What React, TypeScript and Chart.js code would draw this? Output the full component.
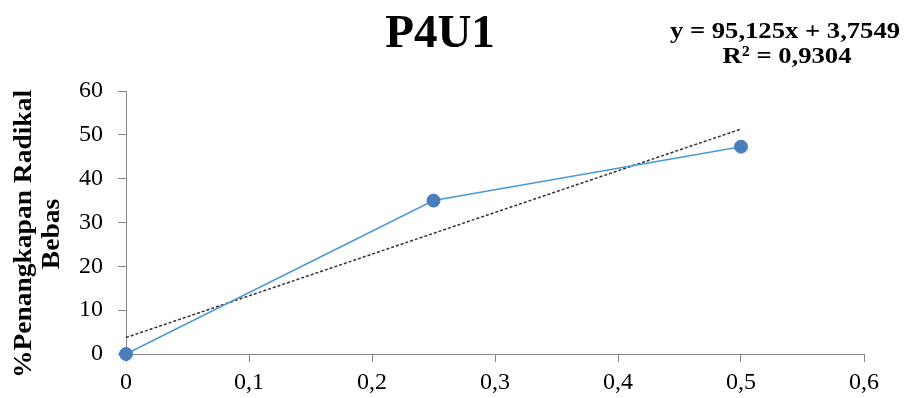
import React, { useEffect, useRef } from "react";
import { Chart, registerables } from "chart.js";

Chart.register(...registerables);

const xValues = [0, 0.25, 0.5];
const yValues = [0, 35, 47.3];
const slope = 95.125;
const intercept = 3.7549;
const trendX = [0, 0.5];
const titleText = "P4U1";
const eqLine1 = "y = 95,125x + 3,7549";
const eqLine2 = "R² = 0,9304";
const yTitleLines = ["%Penangkapan Radikal", "Bebas"];

const SERIF = "'Liberation Serif', 'Times New Roman', serif";

const textPlugin = {
  id: "texts",
  afterDraw(chart: any) {
    const ctx = chart.ctx;
    ctx.save();
    ctx.fillStyle = "#000";
    ctx.textAlign = "center";
    ctx.textBaseline = "alphabetic";
    ctx.font = `bold 47px ${SERIF}`;
    ctx.fillText(titleText, 440, 47);

    ctx.font = `bold 24px ${SERIF}`;
    ctx.save();
    ctx.translate(785, 38);
    ctx.scale(1.11, 1);
    ctx.fillText(eqLine1, 0, 0);
    ctx.restore();
    ctx.save();
    ctx.translate(787, 63);
    ctx.scale(1.11, 1);
    ctx.fillText(eqLine2, 0, 0);
    ctx.restore();

    // y axis title
    ctx.save();
    ctx.translate(0, 234);
    ctx.rotate(-Math.PI / 2);
    ctx.font = `bold 25px ${SERIF}`;
    ctx.textBaseline = "middle";
    ctx.save();
    ctx.scale(1.1, 1);
    ctx.fillText(yTitleLines[0], 0, 25);
    ctx.fillText(yTitleLines[1], 0, 53);
    ctx.restore();
    ctx.restore();
    ctx.restore();
  },
};

export default function App() {
  const ref = useRef<HTMLCanvasElement>(null);
  useEffect(() => {
    const chart = new Chart(ref.current!, {
      type: "scatter",
      data: {
        datasets: [
          {
            label: "data",
            data: xValues.map((x, i) => ({ x, y: yValues[i] })),
            showLine: true,
            clip: false,
            borderColor: "#4a9ad8",
            borderWidth: 1.5,
            pointRadius: 6.5,
            pointBackgroundColor: "#4a7ebb",
            pointBorderColor: "#4a7ebb",
            pointBorderWidth: 1,
          },
          {
            label: "trend",
            data: trendX.map((x) => ({ x, y: slope * x + intercept })),
            showLine: true,
            borderColor: "#333",
            borderWidth: 1.5,
            borderDash: [3, 2],
            pointRadius: 0,
          },
        ],
      },
      options: {
        animation: false,
        responsive: false,
        maintainAspectRatio: false,
        layout: { padding: { left: 0, top: 91, right: 42, bottom: 0 } },
        plugins: { legend: { display: false }, tooltip: { enabled: false }, title: { display: false } },
        scales: {
          x: {
            type: "linear",
            min: 0,
            max: 0.6,
            ticks: {
              stepSize: 0.1,
              color: "#000",
              font: { family: SERIF, size: 24 },
              padding: 6,
              callback: (v: any) => String(Math.round(Number(v) * 10) / 10).replace(".", ","),
            },
            grid: { drawOnChartArea: false, drawTicks: true, tickLength: 8, color: "#868686" },
            border: { color: "#868686", width: 1 },
            afterFit: (s: any) => {
              s.height = 44;
            },
          },
          y: {
            min: 0,
            max: 60,
            ticks: {
              stepSize: 10,
              color: "#000",
              font: { family: SERIF, size: 24 },
              padding: 15,
            },
            grid: { drawOnChartArea: false, drawTicks: true, tickLength: 8, color: "#868686" },
            border: { color: "#868686", width: 1 },
            afterFit: (s: any) => {
              s.width = 126;
            },
          },
        },
      },
      plugins: [textPlugin],
    });
    return () => chart.destroy();
  }, []);
  return (
    <div style={{ position: "fixed", left: 0, top: 0, width: 906, height: 398, background: "#fff" }}>
      <canvas ref={ref} width={906} height={398} style={{ width: 906, height: 398 }} />
    </div>
  );
}
